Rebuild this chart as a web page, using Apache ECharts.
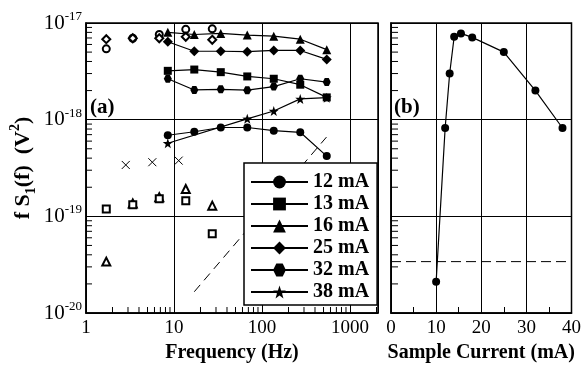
<!DOCTYPE html>
<html>
<head>
<meta charset="utf-8">
<script src="https://cdn.jsdelivr.net/npm/echarts@6/dist/echarts.min.js"></script>
<style>
  html, body { margin: 0; padding: 0; background: #fff; }
  #chart { width: 584px; height: 368px; }
</style>
</head>
<body>
<div id="chart"></div>
<script>
// panel (a): frequencies (Hz) of the connected filled-symbol series
const freqs = [8.5, 17, 34, 68, 136, 272, 544];
const s12 = [6.9e-19, 7.5e-19, 8.3e-19, 8.3e-19, 7.7e-19, 7.4e-19, 4.2e-19];
const s13 = [3.2e-18, 3.3e-18, 3.1e-18, 2.8e-18, 2.65e-18, 2.3e-18, 1.7e-18];
const s16 = [8.0e-18, 7.6e-18, 7.8e-18, 7.5e-18, 7.3e-18, 6.8e-18, 5.3e-18];
const s25 = [6.4e-18, 5.1e-18, 5.1e-18, 5.05e-18, 5.2e-18, 5.2e-18, 4.2e-18];
const s32 = [2.65e-18, 2.03e-18, 2.06e-18, 2.02e-18, 2.2e-18, 2.65e-18, 2.45e-18];
const starFreqs = [8.5, 68, 136, 272, 544];
const s38 = [5.7e-19, 1.02e-18, 1.23e-18, 1.64e-18, 1.69e-18];

// panel (a): open symbols at low frequency (no lines)
const lowFreqs = [1.7, 3.4, 6.8, 13.6, 27.2];
const openCircle = [5.4e-18, 6.95e-18, 7.6e-18, 8.6e-18, 8.7e-18];
const openDiamond = [6.8e-18, 6.95e-18, 6.95e-18, 7.2e-18, 6.7e-18];
const openTriangle = [3.4e-20, 1.36e-19, 1.58e-19, 1.92e-19, 1.29e-19];
const openSquare = [1.19e-19, 1.32e-19, 1.52e-19, 1.45e-19, 6.6e-20];
const crossFreqs = [2.83, 5.67, 11.3];
const crossVals = [3.4e-19, 3.63e-19, 3.77e-19];
const slopeFreqs = [17, 540];
const slopeVals = [1.66e-20, 6.6e-19];

// panel (b)
const currents = [10, 12, 13, 14, 15.5, 18, 25, 32, 38];
const currentVals = [2.1e-20, 8.2e-19, 3.0e-18, 7.2e-18, 7.8e-18, 7.1e-18, 5.0e-18, 2.0e-18, 8.2e-19];
const thresholdSpan = [0, 40];
const thresholdVal = 3.4e-20;

const legendNames = ['12 mA', '13 mA', '16 mA', '25 mA', '32 mA', '38 mA'];

// minor tick values (2..9 per decade)
function decadeSteps(fromExp, toExp) {
  const out = [];
  for (let e = fromExp; e < toExp; e++) {
    for (let k = 2; k <= 9; k++) out.push(k * Math.pow(10, e));
  }
  return out;
}
const freqMinor = decadeSteps(0, 4).filter(v => v <= 2080);
const valMinor = decadeSteps(-20, -17);
const freqMin = 1, freqMax = 2080;
const valMin = 1e-20, valMax = 1e-17;

const serif = '"Liberation Serif", "DejaVu Serif", serif';
const hexagon = 'path://M-10,0L-5,-8.66L5,-8.66L10,0L5,8.66L-5,8.66Z';
const star = 'path://M0,-10L2.35,-3.24L9.51,-3.09L3.8,1.24L5.88,8.09L0,4L-5.88,8.09L-3.8,1.24L-9.51,-3.09L-2.35,-3.24Z';
const cross = 'path://M0,0L10,10M10,0L0,10';

const zip = (xs, ys) => xs.map((x, i) => [x, ys[i]]);
const black = '#000';

const chart = echarts.init(document.getElementById('chart'), null, { renderer: 'canvas' });

const powLabel = v => '{b|10}{sup|' + Math.round(Math.log10(v)) + '}';

function lineSeries(name, xs, ys, symbol, size) {
  return {
    name: name,
    type: 'line',
    xAxisIndex: 0,
    yAxisIndex: 0,
    data: zip(xs, ys),
    symbol: symbol,
    symbolSize: size,
    lineStyle: { color: black, width: 1.2 },
    itemStyle: { color: black },
    z: 3
  };
}

function openSeries(xs, ys, symbol, size) {
  return {
    type: 'scatter',
    xAxisIndex: 0,
    yAxisIndex: 0,
    data: zip(xs, ys),
    symbol: symbol,
    symbolSize: size,
    itemStyle: { color: black, borderWidth: 1, opacity: 1 }
  };
}

// small inside tick marks drawn as thin rects on the axis scale
function tickSeries(xi, yi, data, size, offset) {
  return {
    type: 'scatter',
    xAxisIndex: xi,
    yAxisIndex: yi,
    data: data,
    symbol: 'rect',
    symbolSize: size,
    symbolOffset: offset,
    clip: false,
    silent: true,
    itemStyle: { color: black, opacity: 1 },
    z: 1
  };
}

const option = {
  backgroundColor: '#fff',
  animation: false,
  textStyle: { fontFamily: serif },
  title: [
    { text: '(a)', left: 90, top: 97, padding: 0, textStyle: { fontFamily: serif, fontWeight: 'bold', fontSize: 21, color: black } },
    { text: '(b)', left: 394, top: 97, padding: 0, textStyle: { fontFamily: serif, fontWeight: 'bold', fontSize: 21, color: black } }
  ],
  grid: [
    { left: 86, top: 23, width: 292, height: 290, show: true, borderColor: black, borderWidth: 1.5 },
    { left: 391, top: 23, width: 184, height: 290, show: true, borderColor: black, borderWidth: 1.5 }
  ],
  legend: {
    data: legendNames,
    orient: 'vertical',
    left: 244,
    top: 163,
    padding: [9, 8, 3, 6],
    itemWidth: 57,
    itemHeight: 16,
    itemGap: 2,
    backgroundColor: '#fff',
    borderColor: black,
    borderWidth: 1.5,
    selectedMode: false,
    textStyle: { fontFamily: serif, fontWeight: 'bold', fontSize: 20, color: black, lineHeight: 20 }
  },
  xAxis: [
    {
      type: 'log', gridIndex: 0, min: freqMin, max: freqMax,
      axisLine: { lineStyle: { color: black, width: 1.5 } },
      axisTick: { show: false },
      axisLabel: { color: black, fontSize: 19, fontFamily: serif, margin: 6, showMaxLabel: false, formatter: v => String(v) },
      splitLine: { show: true, lineStyle: { color: black, width: 1 } },
      name: 'Frequency (Hz)', nameLocation: 'middle', nameGap: 30,
      nameTextStyle: { fontFamily: serif, fontWeight: 'bold', fontSize: 20, color: black }
    },
    {
      type: 'value', gridIndex: 1, min: 0, max: 40, interval: 10,
      axisLine: { lineStyle: { color: black, width: 1.5 } },
      axisTick: { show: false, inside: true },
      minorTick: { show: true, splitNumber: 2, length: 6, lineStyle: { color: black, width: 1 } },
      axisLabel: { color: black, fontSize: 19, fontFamily: serif, margin: 6 },
      splitLine: { show: true, lineStyle: { color: black, width: 1 } },
      name: 'Sample Current (mA)', nameLocation: 'middle', nameGap: 30,
      nameTextStyle: { fontFamily: serif, fontWeight: 'bold', fontSize: 20, color: black }
    }
  ],
  yAxis: [
    {
      type: 'log', gridIndex: 0, min: valMin, max: valMax,
      axisLine: { lineStyle: { color: black, width: 1.5 } },
      axisTick: { show: false },
      axisLabel: {
        formatter: powLabel, margin: 4,
        rich: {
          b: { fontFamily: serif, fontSize: 21, color: black, lineHeight: 26 },
          sup: { fontFamily: serif, fontSize: 13, color: black, verticalAlign: 'top', lineHeight: 14 }
        }
      },
      splitLine: { show: true, lineStyle: { color: black, width: 1 } },
      name: '{a|f S}{s|1}{a|(f)  (V}{p|2}{a|)}',
      nameLocation: 'middle', nameGap: 48,
      nameTextStyle: {
        rich: {
          a: { fontFamily: serif, fontWeight: 'bold', fontSize: 22, color: black, lineHeight: 30 },
          s: { fontFamily: serif, fontWeight: 'bold', fontSize: 14, color: black, verticalAlign: 'bottom', lineHeight: 18 },
          p: { fontFamily: serif, fontWeight: 'bold', fontSize: 14, color: black, verticalAlign: 'top', lineHeight: 16 }
        }
      }
    },
    {
      type: 'log', gridIndex: 1, min: valMin, max: valMax,
      axisLine: { lineStyle: { color: black, width: 1.5 } },
      axisTick: { show: false },
      axisLabel: { show: false },
      splitLine: { show: true, lineStyle: { color: black, width: 1 } }
    }
  ],
  series: [
    lineSeries('12 mA', freqs, s12, 'circle', 8),
    lineSeries('13 mA', freqs, s13, 'rect', 8),
    lineSeries('16 mA', freqs, s16, 'triangle', 9),
    lineSeries('25 mA', freqs, s25, 'diamond', 10),
    lineSeries('32 mA', freqs, s32, hexagon, 8),
    lineSeries('38 mA', starFreqs, s38, star, 10),
    openSeries(lowFreqs, openCircle, 'emptyCircle', 7),
    openSeries(lowFreqs, openDiamond, 'emptyDiamond', 8),
    openSeries(lowFreqs, openTriangle, 'emptyTriangle', 8),
    openSeries(lowFreqs, openSquare, 'emptyRect', 7),
    {
      type: 'scatter', xAxisIndex: 0, yAxisIndex: 0,
      data: zip(crossFreqs, crossVals),
      symbol: cross, symbolSize: 8,
      itemStyle: { color: 'none', borderColor: black, borderWidth: 1, opacity: 1 }
    },
    {
      type: 'line', xAxisIndex: 0, yAxisIndex: 0,
      data: zip(slopeFreqs, slopeVals),
      symbol: 'none',
      lineStyle: { color: black, width: 1, type: [9, 6] }
    },
    {
      type: 'line', xAxisIndex: 1, yAxisIndex: 1,
      data: zip(currents, currentVals),
      symbol: 'circle', symbolSize: 8,
      lineStyle: { color: black, width: 1.2 },
      itemStyle: { color: black },
      z: 3
    },
    {
      type: 'line', xAxisIndex: 1, yAxisIndex: 1,
      data: thresholdSpan.map(c => [c, thresholdVal]),
      symbol: 'none',
      lineStyle: { color: black, width: 1, type: [10, 5] }
    },
    tickSeries(0, 0, freqMinor.map(f => [f, valMin]), [1, 6], [0, -3]),
    tickSeries(0, 0, valMinor.map(v => [freqMin, v]), [6, 1], [3, 0]),
    tickSeries(1, 1, valMinor.map(v => [0, v]), [7, 1], [3.5, 0])
  ]
};

chart.setOption(option);
</script>
</body>
</html>
